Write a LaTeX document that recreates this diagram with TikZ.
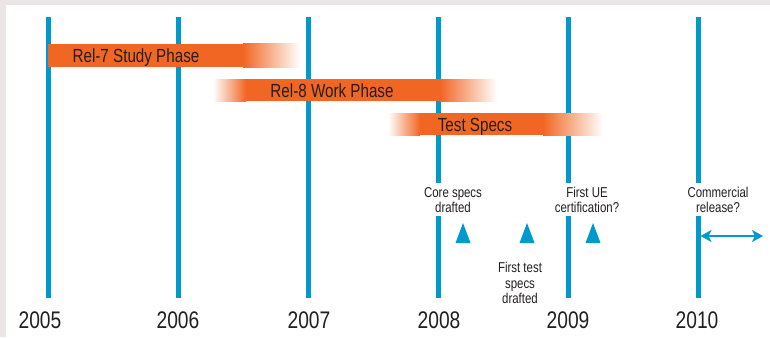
\documentclass[tikz,border=0pt]{standalone}
\usepackage{xcolor}
\usepackage{fontspec}
\setmainfont{Liberation Sans}[FakeStretch=0.8]
\usepackage{tikz}
\usetikzlibrary{arrows.meta}
\definecolor{tlblue}{RGB}{0,153,204}
\definecolor{tlorange}{RGB}{242,102,36}
\definecolor{tltext}{RGB}{35,31,32}
\definecolor{tlback}{RGB}{236,229,229}

\begin{document}
\begin{tikzpicture}[x=1pt,y=-1pt,
    yearlabel/.style={text=tltext,font=\fontsize{24}{27}\selectfont},
    yearline/.style={tlblue,line width=5pt},
    barlabel/.style={text=tltext,anchor=base,font=\fontsize{19}{22}\selectfont},
    note/.style={text=tltext,align=center,inner sep=0pt,font=\fontsize{14.3}{15.5}\selectfont},
    milestone/.style={fill=tlblue,draw=none}]
    \fill[tlback] (0,0) rectangle (770,337);
    \fill[white] (6,5) rectangle (770,337);
    \useasboundingbox (0,0) rectangle (770,337);
    % years and their lines
    \foreach \yr [count=\i from 0] in {2005,2006,2007,2008,2009,2010} {
      \coordinate (top\yr) at (48+130*\i,17);
      \coordinate (bot\yr) at (48+130*\i,298);
    }
    \foreach \yr/\lx in {2005/40,2006/178,2007/309,2008/439,2009/568,2010/697}
      \node[yearlabel] (y\yr) at (\lx,320) {\yr};
    \foreach \yr in {2005,2006,2007}
      \draw[yearline] (top\yr) -- (bot\yr);
    \foreach \yr in {2008,2009,2010} {
      \draw[yearline] (top\yr) -- ++(0,166);
      \draw[yearline] (bot\yr) -- ++(0,-82);
    }
    % phases
    \fill[tlorange] (48,44) rectangle (243,67);
    \shade[left color=tlorange,right color=white] (243,44) rectangle (300,67);
    \node[barlabel] (rel7) at (136,63) {Rel-7 Study Phase};
    \shade[left color=white,right color=tlorange] (213,79) rectangle (246,101);
    \fill[tlorange] (246,79) rectangle (440,101);
    \shade[left color=tlorange,right color=white] (440,79) rectangle (497,101);
    \node[barlabel] (rel8) at (332,97) {Rel-8 Work Phase};
    \shade[left color=white,right color=tlorange] (388,113) rectangle (420,135);
    \fill[tlorange] (420,113) rectangle (543,135);
    \shade[left color=tlorange,right color=white] (543,113) rectangle (603,135);
    \node[barlabel] (tests) at (475,131) {Test Specs};
    % milestones
    \node[note] (core) at (453,200) {Core specs\\drafted};
    \node[note] (firstue) at (587,200) {First UE\\certification?};
    \node[note] (release) at (718,200) {Commercial\\release?};
    \node[note] (firsttest) at (520,283) {First test\\specs\\drafted};
    \foreach \mx in {463,527,593}
      \fill[milestone] (\mx-7.5,243) -- (\mx,223) -- (\mx+7.5,243) -- cycle;
    \coordinate (relstart) at (700.5,236);
    \coordinate (relend) at (763,236);
    \draw[tlblue,line width=2pt,{Stealth[length=11pt,width=12pt,inset=3pt]}-{Stealth[length=11pt,width=12pt,inset=3pt]}] (relstart) -- (relend);
\end{tikzpicture}
\end{document}
